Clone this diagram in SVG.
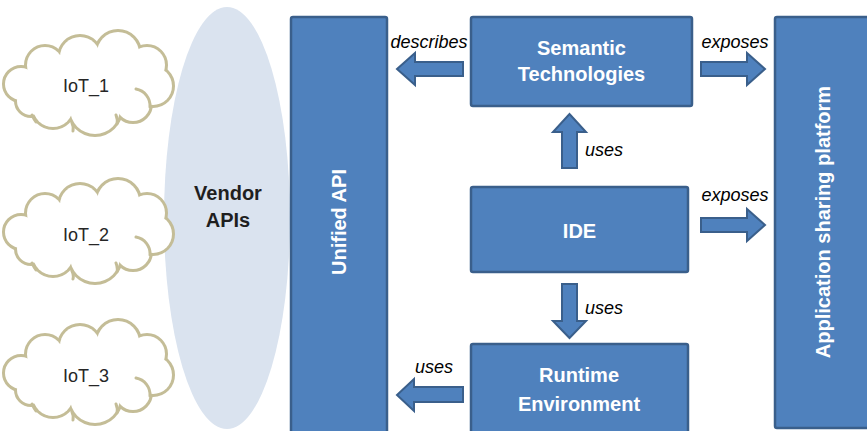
<svg xmlns="http://www.w3.org/2000/svg" xmlns:xlink="http://www.w3.org/1999/xlink" width="867" height="431" viewBox="0 0 867 431">
  <style>
    .box { fill: #4F81BD; stroke: #3A5F8B; stroke-width: 2.5; }
    .arrow { fill: #4F81BD; stroke: #3A5F8B; stroke-width: 2; stroke-linejoin: miter; }
    .boxtext { font-family: "Liberation Sans", Arial, sans-serif; font-weight: bold; font-size: 20px; fill: #FFFFFF; text-anchor: middle; }
    .label { font-family: "Liberation Sans", Arial, sans-serif; font-style: italic; font-size: 18px; fill: #000000; }
    .cloud-outline { fill: #C4BD97; stroke: #C4BD97; stroke-width: 6; }
    .cloud-fill { fill: #FFFFFF; stroke: none; }
    .cloud-detail { fill: none; stroke: #C4BD97; stroke-width: 3; stroke-linecap: round; }
    .cloudtext { font-family: "Liberation Sans", Arial, sans-serif; font-size: 18px; fill: #262626; text-anchor: middle; }
    .vendortext { font-family: "Liberation Sans", Arial, sans-serif; font-weight: bold; font-size: 20px; fill: #1F1F1F; text-anchor: middle; }
  </style>
  <defs>
    <g id="cloudShape">
      <circle cx="16" cy="53" r="16"/>
      <circle cx="40" cy="34" r="18"/>
      <circle cx="75" cy="26" r="20"/>
      <circle cx="113" cy="22" r="21"/>
      <circle cx="142" cy="34" r="18"/>
      <circle cx="148" cy="55" r="19"/>
      <circle cx="128" cy="73" r="17"/>
      <circle cx="90" cy="78" r="25"/>
      <circle cx="48" cy="76" r="20"/>
      <circle cx="26" cy="70" r="14"/>
      <ellipse cx="85" cy="52" rx="62" ry="32"/>
    </g>
  </defs>

  <!-- Vendor APIs ellipse -->
  <g id="vendor-apis">
    <ellipse cx="227" cy="218" rx="63" ry="211" fill="#DAE3EF"/>
    <text class="vendortext" x="228" y="200">Vendor</text>
    <text class="vendortext" x="228" y="227">APIs</text>
  </g>

  <!-- Clouds -->
  <g id="iot1" transform="translate(5,31)">
    <use href="#cloudShape" class="cloud-outline"/>
    <use href="#cloudShape" class="cloud-fill"/>
    <path class="cloud-detail" d="M131 58 A17 17 0 0 1 145 76 M111 84 Q113 89 112 93 M67 92 Q69 96 68 100 M27 84 Q29 88 31 91"/>
    <text class="cloudtext" x="81" y="61">IoT_1</text>
  </g>
  <g id="iot2" transform="translate(5,179)">
    <use href="#cloudShape" class="cloud-outline"/>
    <use href="#cloudShape" class="cloud-fill"/>
    <path class="cloud-detail" d="M131 58 A17 17 0 0 1 145 76 M111 84 Q113 89 112 93 M67 92 Q69 96 68 100 M27 84 Q29 88 31 91"/>
    <text class="cloudtext" x="81" y="62">IoT_2</text>
  </g>
  <g id="iot3" transform="translate(5,320)">
    <use href="#cloudShape" class="cloud-outline"/>
    <use href="#cloudShape" class="cloud-fill"/>
    <path class="cloud-detail" d="M131 58 A17 17 0 0 1 145 76 M111 84 Q113 89 112 93 M67 92 Q69 96 68 100 M27 84 Q29 88 31 91"/>
    <text class="cloudtext" x="81" y="62">IoT_3</text>
  </g>

  <!-- Unified API -->
  <g id="unified-api">
    <rect class="box" x="291" y="17" width="96" height="425" rx="2"/>
    <text class="boxtext" transform="translate(346,222) rotate(-90)" x="0" y="0">Unified API</text>
  </g>

  <!-- Semantic Technologies -->
  <g id="semantic-technologies">
    <rect class="box" x="471" y="17" width="221" height="89" rx="2"/>
    <text class="boxtext" x="581.5" y="55">Semantic</text>
    <text class="boxtext" x="581.5" y="81">Technologies</text>
  </g>

  <!-- IDE -->
  <g id="ide">
    <rect class="box" x="471" y="187" width="217" height="85" rx="2"/>
    <text class="boxtext" x="579.5" y="238">IDE</text>
  </g>

  <!-- Runtime Environment -->
  <g id="runtime-environment">
    <rect class="box" x="471" y="344" width="217" height="98" rx="2"/>
    <text class="boxtext" x="579" y="382">Runtime</text>
    <text class="boxtext" x="579" y="411">Environment</text>
  </g>

  <!-- Application sharing platform -->
  <g id="application-sharing-platform">
    <rect class="box" x="775" y="17" width="100" height="411" rx="2"/>
    <text class="boxtext" transform="translate(830,222) rotate(-90)" x="0" y="0">Application sharing platform</text>
  </g>

  <!-- Connectors -->
  <g id="connectors">
    <!-- describes: Semantic -> Unified API -->
    <polygon class="arrow" points="463,62 415,62 415,53 397,69 415,85 415,76 463,76"/>
    <text class="label" x="429" y="48" text-anchor="middle">describes</text>

    <!-- exposes: Semantic -> Platform -->
    <polygon class="arrow" points="701,62 747,62 747,53 765,69 747,85 747,76 701,76"/>
    <text class="label" x="735" y="48" text-anchor="middle">exposes</text>

    <!-- uses: IDE -> Semantic (up) -->
    <polygon class="arrow" points="562,168 562,132 553,132 569.5,114 586,132 577,132 577,168"/>
    <text class="label" x="585" y="156">uses</text>

    <!-- exposes: IDE -> Platform -->
    <polygon class="arrow" points="701,218 747,218 747,209 765,225 747,241 747,232 701,232"/>
    <text class="label" x="735" y="201" text-anchor="middle">exposes</text>

    <!-- uses: IDE -> Runtime (down) -->
    <polygon class="arrow" points="562,284 577,284 577,321 586,321 569.5,338 553,321 562,321"/>
    <text class="label" x="585" y="314">uses</text>

    <!-- uses: Runtime -> Unified API -->
    <polygon class="arrow" points="463,387 414,387 414,379 397,395 414,411 414,402 463,402"/>
    <text class="label" x="434" y="373" text-anchor="middle">uses</text>
  </g>
</svg>
